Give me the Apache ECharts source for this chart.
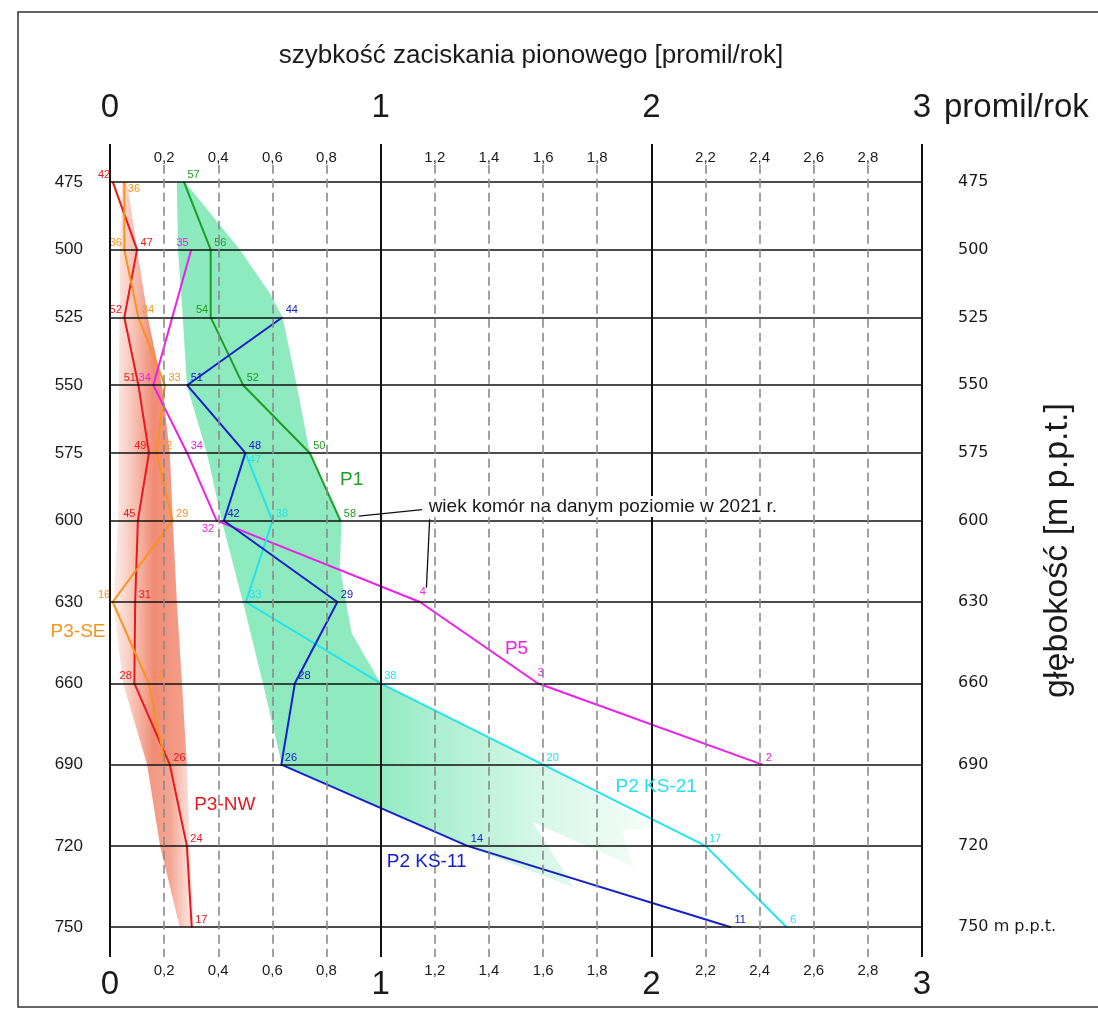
<!DOCTYPE html>
<html>
<head>
<meta charset="utf-8">
<script src="https://cdn.jsdelivr.net/npm/echarts@6/dist/echarts.min.js"></script>
<style>
  html, body { margin: 0; padding: 0; background: #fff; }
  #chart { width: 1098px; height: 1012px; }
</style>
</head>
<body>
<div id="chart"></div>
<script>
// depth levels (m p.p.t.) with grid lines
var depthTicks = [475, 500, 525, 550, 575, 600, 630, 660, 690, 720, 750];

// P3-NW
var p3nwDepth = [475, 500, 525, 550, 575, 600, 630, 660, 690, 720, 750];
var p3nwRate = [0.01, 0.10, 0.053, 0.105, 0.144, 0.103, 0.093, 0.09, 0.221, 0.284, 0.302];
var p3nwAge = [42, 47, 52, 51, 49, 45, 31, 28, 26, 24, 17];

// P3-SE
var p3seDepth = [475, 500, 525, 550, 575, 600, 630, 660, 690];
var p3seRate = [0.053, 0.053, 0.105, 0.203, 0.172, 0.231, 0.01, 0.143, 0.205];
var p3seAge = [36, 36, 34, 33, 32, 29, 16, 12, 7];

// P5
var p5Depth = [500, 550, 575, 600, 630, 660, 690];
var p5Rate = [0.30, 0.16, 0.285, 0.394, 1.145, 1.58, 2.41];
var p5Age = [35, 34, 34, 32, 4, 3, 2];

// P1
var p1Depth = [475, 500, 525, 550, 575, 600];
var p1Rate = [0.273, 0.372, 0.372, 0.492, 0.738, 0.851];
var p1Age = [57, 56, 54, 52, 50, 58];

// P2 KS-11
var ks11Depth = [525, 550, 575, 600, 630, 660, 690, 720, 750];
var ks11Rate = [0.636, 0.285, 0.50, 0.421, 0.84, 0.683, 0.633, 1.32, 2.294];
var ks11Age = [44, 51, 48, 42, 29, 28, 26, 14, 11];

// P2 KS-21
var ks21Depth = [575, 600, 630, 660, 690, 720, 750];
var ks21Rate = [0.50, 0.60, 0.502, 1.0, 1.6, 2.2, 2.5];
var ks21Age = [47, 38, 33, 38, 20, 17, 6];

// shaded envelopes [rate, depth]
var p3BandUpper = [
  [0.044, 475], [0.037, 500], [0.033, 550], [0.030, 600], [0.011, 630], [0.048, 660],
  [0.137, 690],
  [0.284, 690], [0.266, 660], [0.247, 630], [0.232, 600],
  [0.221, 575], [0.192, 550], [0.140, 525], [0.100, 500], [0.063, 475]
];
var p3BandLower = [
  [0.137, 690], [0.185, 720], [0.258, 750], [0.31, 750], [0.295, 720], [0.284, 690]
];
var greenBand = [
  [0.247, 475], [0.251, 500], [0.269, 525], [0.284, 550], [0.358, 575], [0.413, 600],
  [0.491, 630], [0.565, 660], [0.635, 690], [1.32, 720], [1.716, 735.5], [1.561, 711.2],
  [1.937, 727.8], [1.889, 714.1], [2.03, 713.4], [1.6, 690], [1.0, 660], [0.893, 641.5],
  [0.849, 617.1], [0.856, 600], [0.738, 575], [0.690, 550], [0.638, 525], [0.59, 516],
  [0.48, 500], [0.277, 475]
];

// which side of the point each age label sits
var p3nwSide = ['l', 'r', 'l', 'l', 'l', 'l', 'r', 'l', 'r', 'r', 'r'];
var p3seSide = ['rd', 'l', 'r', 'r', 'r', 'r', 'l', 'r', 'l'];
var p5Side = ['l', 'l', 'r', 'ld', 'u', 'u', 'r'];
var p1Side = ['r', 'r', 'l', 'r', 'r', 'r'];
var ks11Side = ['r', 'r', 'r', 'r', 'r', 'r', 'r', 'r', 'r'];
var ks21Side = ['rd', 'r', 'r', 'r', 'r', 'r', 'r'];

var FONT = '"Liberation Sans", Arial, sans-serif';
var chart = echarts.init(document.getElementById('chart'));

function labelFor(side) {
  if (side === 'l') return { position: 'left', distance: 2, offset: [0, -7] };
  if (side === 'ld') return { position: 'left', distance: 2, offset: [0, 8] };
  if (side === 'rd') return { position: 'right', distance: 3, offset: [0, 7] };
  if (side === 'u') return { position: 'top', distance: 4, offset: [3, 0] };
  return { position: 'right', distance: 3, offset: [0, -7] };
}

function lineSeries(name, color, rate, depth, age, side, nameMark) {
  var data = rate.map(function (v, i) {
    var lab = labelFor(side[i]);
    lab.show = true;
    lab.formatter = String(age[i]);
    return { value: [v, depth[i]], label: lab };
  });
  var markLabel = { show: true, position: nameMark.pos || 'inside', distance: 4, formatter: name, color: color, fontSize: 19, fontFamily: FONT };
  return {
    name: name,
    type: 'line',
    z: 4,
    data: data,
    symbol: 'circle',
    symbolSize: 1,
    itemStyle: { color: color },
    lineStyle: { color: color, width: 2 },
    label: { show: true, color: color, fontSize: 11, fontFamily: FONT },
    markPoint: {
      symbol: 'circle',
      symbolSize: 1,
      itemStyle: { color: 'rgba(0,0,0,0)' },
      data: [{ coord: nameMark.at, label: markLabel }]
    }
  };
}

function bandSeries(points, stops) {
  return {
    type: 'custom',
    coordinateSystem: 'cartesian2d',
    silent: true,
    z: 1,
    data: [[0, 475]],
    renderItem: function (params, api) {
      return {
        type: 'polygon',
        shape: { points: points.map(function (p) { return api.coord(p); }) },
        style: { fill: new echarts.graphic.LinearGradient(0, 0, 1, 0, stops), stroke: 'none' }
      };
    }
  };
}

// grid lines
var gridLines = [];
depthTicks.forEach(function (d) {
  gridLines.push([{ coord: [0, d], lineStyle: { color: '#111', width: 1.5, type: 'solid' } }, { coord: [3, d] }]);
});
for (var k = 1; k < 15; k++) {
  var v = k * 0.2;
  if (k % 5 === 0) continue;
  gridLines.push([{ coord: [v, 468.7], lineStyle: { color: '#8a8a8a', width: 1.6, type: [9, 5] } }, { coord: [v, 761] }]);
}
[0, 1, 2, 3].forEach(function (v) {
  gridLines.push([{ coord: [v, 461] , lineStyle: { color: '#111', width: 2, type: 'solid' } }, { coord: [v, 761] }]);
});
// annotation leader lines
gridLines.push([{ coord: [0.919, 598.3], lineStyle: { color: '#111', width: 1.3, type: 'solid' } }, { coord: [1.153, 595.9] }]);
gridLines.push([{ coord: [1.181, 599.5], lineStyle: { color: '#111', width: 1.3, type: 'solid' } }, { coord: [1.169, 624.7] }]);

function smallTick(v) {
  if (Math.abs(v - Math.round(v)) < 1e-6) return '';
  return v.toFixed(1).replace('.', ',');
}

var noLine = { show: false };
var option = {
  animation: false,
  backgroundColor: '#ffffff',
  textStyle: { fontFamily: FONT },
  grid: { left: 110, right: 176, top: 144, height: 813, outerBoundsMode: 'none', containLabel: false },
  graphic: [
    {
      type: 'rect', z: -10, silent: true,
      shape: { x: 18, y: 12, width: 1100, height: 995 },
      style: { fill: 'none', stroke: '#333', lineWidth: 1.5 }
    },
    {
      type: 'text', x: 531, y: 56, silent: true,
      style: { text: 'szybkość zaciskania pionowego [promil/rok]', font: '26px ' + FONT, fill: '#1a1a1a', align: 'center', verticalAlign: 'middle' }
    }
  ],
  xAxis: [
    {
      type: 'value', position: 'top', min: 0, max: 3, interval: 1, offset: 36,
      axisLine: noLine, axisTick: noLine, splitLine: noLine,
      axisLabel: { fontSize: 33, color: '#1a1a1a', margin: 0, verticalAlign: 'middle' },
      name: 'promil/rok', nameLocation: 'end', nameGap: 22,
      nameTextStyle: { fontSize: 33, color: '#1a1a1a', verticalAlign: 'middle' }
    },
    {
      type: 'value', position: 'bottom', min: 0, max: 3, interval: 1, offset: 28,
      axisLine: noLine, axisTick: noLine, splitLine: noLine,
      axisLabel: { fontSize: 33, color: '#1a1a1a', margin: 0, verticalAlign: 'middle' }
    },
    {
      type: 'value', position: 'top', min: 0, max: 3, interval: 0.2,
      axisLine: noLine, axisTick: noLine, splitLine: noLine,
      axisLabel: { inside: true, margin: 6, fontSize: 15, color: '#1a1a1a', formatter: smallTick }
    },
    {
      type: 'value', position: 'bottom', min: 0, max: 3, interval: 0.2,
      axisLine: noLine, axisTick: noLine, splitLine: noLine,
      axisLabel: { margin: 6, fontSize: 15, color: '#1a1a1a', formatter: smallTick }
    }
  ],
  yAxis: [
    {
      type: 'value', inverse: true, min: 461, max: 761, position: 'left',
      axisLine: noLine, axisTick: noLine, splitLine: noLine,
      axisLabel: { customValues: depthTicks, margin: 27, fontSize: 17, color: '#1a1a1a' }
    },
    {
      type: 'value', inverse: true, min: 461, max: 761, position: 'right',
      axisLine: noLine, axisTick: noLine, splitLine: noLine,
      axisLabel: {
        customValues: depthTicks, margin: 36, fontSize: 16, color: '#1a1a1a', fontFamily: '"DejaVu Sans", sans-serif',
        formatter: function (v) { return v === 750 ? '750 m p.p.t.' : String(v); }
      },
      name: 'głębokość [m p.p.t.]', nameLocation: 'middle', nameRotate: 90, nameGap: 119, nameMoveOverlap: false,
      nameTextStyle: { fontSize: 34, color: '#1a1a1a' }
    }
  ],
  series: [
    bandSeries(p3BandUpper, [
      { offset: 0, color: 'rgba(240,130,100,0.12)' },
      { offset: 0.55, color: 'rgba(236,100,70,0.75)' },
      { offset: 1, color: 'rgba(238,110,80,0.65)' }
    ]),
    bandSeries(p3BandLower, [
      { offset: 0, color: 'rgba(236,105,75,0.7)' },
      { offset: 0.5, color: 'rgba(236,105,75,0.6)' },
      { offset: 1, color: 'rgba(240,130,100,0.15)' }
    ]),
    bandSeries(greenBand, [
      { offset: 0, color: 'rgba(70,220,150,0.62)' },
      { offset: 0.4, color: 'rgba(70,220,150,0.6)' },
      { offset: 0.75, color: 'rgba(70,220,150,0.22)' },
      { offset: 1, color: 'rgba(70,220,150,0.04)' }
    ]),
    {
      type: 'line', z: 2, silent: true,
      data: [[0, 461]], symbol: 'none', lineStyle: { opacity: 0 },
      markLine: { silent: true, symbol: ['none', 'none'], label: { show: false }, data: gridLines },
      markPoint: {
        symbol: 'circle', symbolSize: 1, itemStyle: { color: 'rgba(0,0,0,0)' },
        data: [{
          coord: [1.168, 594.8],
          label: {
            show: true, position: 'right', distance: 0, formatter: 'wiek komór na danym poziomie w 2021 r.',
            fontSize: 19, color: '#1a1a1a', fontFamily: FONT, backgroundColor: '#ffffff', padding: [1, 2]
          }
        }]
      }
    },
    lineSeries('P3-NW', '#e8191c', p3nwRate, p3nwDepth, p3nwAge, p3nwSide, { at: [0.424, 704.8] }),
    lineSeries('P3-SE', '#f7931e', p3seRate, p3seDepth, p3seAge, p3seSide, { at: [0, 641], pos: 'left' }),
    lineSeries('P5', '#ec1fec', p5Rate, p5Depth, p5Age, p5Side, { at: [1.502, 647.1] }),
    lineSeries('P1', '#1f9e24', p1Rate, p1Depth, p1Age, p1Side, { at: [0.893, 584.9] }),
    lineSeries('P2 KS-21', '#22e3ee', ks21Rate, ks21Depth, ks21Age, ks21Side, { at: [2.018, 698.2] }),
    lineSeries('P2 KS-11', '#1420c8', ks11Rate, ks11Depth, ks11Age, ks11Side, { at: [1.17, 725.9] })
  ]
};

chart.setOption(option);
</script>
</body>
</html>
